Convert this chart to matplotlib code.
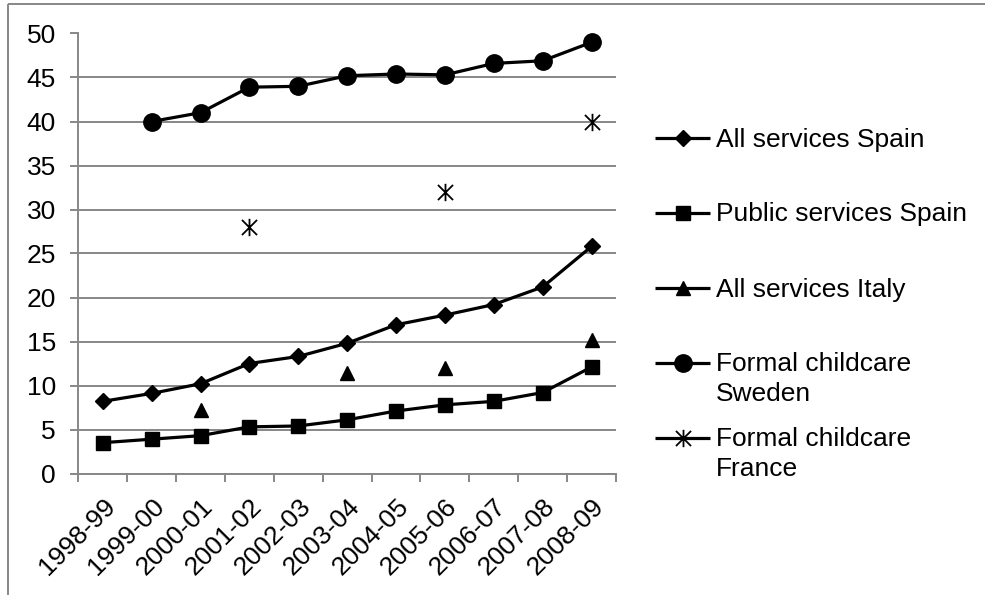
import matplotlib
matplotlib.use('Agg')
import matplotlib.pyplot as plt
from matplotlib.path import Path
from matplotlib.patches import Rectangle
import numpy as np

plt.rcParams['font.family'] = ['Liberation Sans', 'DejaVu Sans']

years = ['1998-99', '1999-00', '2000-01', '2001-02', '2002-03', '2003-04',
         '2004-05', '2005-06', '2006-07', '2007-08', '2008-09']
nan = np.nan
spain_all = [8.2, 9.1, 10.2, 12.5, 13.3, 14.8, 16.9, 18.0, 19.2, 21.2, 25.8]
spain_public = [3.5, 3.9, 4.3, 5.3, 5.4, 6.1, 7.1, 7.8, 8.2, 9.2, 12.1]
italy_all = [nan, nan, 7.2, nan, nan, 11.4, nan, 12.0, nan, nan, 15.2]
sweden_formal = [nan, 40.0, 41.0, 43.9, 44.0, 45.2, 45.4, 45.3, 46.6, 46.9, 49.0]
france_formal = [nan, nan, nan, 28.0, nan, nan, nan, 32.0, nan, nan, 40.0]
series_labels = ['All services Spain', 'Public services Spain', 'All services Italy',
                 'Formal childcare\nSweden', 'Formal childcare\nFrance']
y_ticks = [0, 5, 10, 15, 20, 25, 30, 35, 40, 45, 50]

W, H = 985, 595
fig = plt.figure(figsize=(W / 100, H / 100), dpi=100)
GRAY = '#878787'
FS = 19

# asterisk marker (X with vertical bar)
ast = Path([(-1, -1), (1, 1), (-1, 1), (1, -1), (0, -1.15), (0, 1.15)],
           [Path.MOVETO, Path.LINETO, Path.MOVETO, Path.LINETO, Path.MOVETO, Path.LINETO])

styles = [
    dict(marker='D', ms=7.8),
    dict(marker='s', ms=10.0),
    dict(marker='^', ms=10.5),
    dict(marker='o', ms=12.5),
    dict(marker=ast, ms=12.5, mew=1.3, mfc='none'),
]
data = [spain_all, spain_public, italy_all, sweden_formal, france_formal]

x0, x1 = 78.3, 616.0
yb, yt = 473.5, 33.5
ax = fig.add_axes([x0 / W, 1 - yb / H, (x1 - x0) / W, (yb - yt) / H])
x = np.arange(len(years))
for vals, st in zip(data, styles):
    kw = dict(color='black', lw=2.3, mec='black', mfc='black', mew=1.0)
    kw.update(st)
    ax.plot(x, vals, clip_on=False, zorder=3, **kw)

ax.set_xlim(-0.5, len(years) - 0.5)
ax.set_ylim(0, 50)
ax.set_yticks(y_ticks)
ax.set_yticklabels([str(v) for v in y_ticks], fontsize=FS)
ax.yaxis.grid(True, color=GRAY, lw=1.4)
ax.set_axisbelow(True)
ax.set_xticks(np.arange(-0.5, len(years), 1.0))
ax.set_xticklabels([])
ax.set_xticks(x, minor=True)
ax.set_xticklabels(years, minor=True, rotation=45, ha='right', va='top',
                   rotation_mode='anchor', fontsize=FS)
ax.tick_params(axis='x', which='minor', length=0, pad=15)
ax.tick_params(axis='x', which='major', length=5.5, width=1.4, color=GRAY, direction='out')
ax.tick_params(axis='y', length=5.5, width=1.4, color=GRAY, pad=10.5)
for s in ['top', 'right']:
    ax.spines[s].set_visible(False)
for s in ['left', 'bottom']:
    ax.spines[s].set_color(GRAY)
    ax.spines[s].set_linewidth(1.4)

# overlay in pixel coordinates for border and legend
ov = fig.add_axes([0, 0, 1, 1], zorder=-1)
ov.set_xlim(0, W)
ov.set_ylim(H, 0)
ov.axis('off')
ov.add_patch(Rectangle((8, 3.5), 2000, 2000, fill=False, edgecolor=GRAY, lw=1.4))

ov2 = fig.add_axes([0, 0, 1, 1], zorder=5)
ov2.set_xlim(0, W)
ov2.set_ylim(H, 0)
ov2.axis('off')
leg_y = [138, 213, 288, 362.5, 437.5]
for ly, lab, st in zip(leg_y, series_labels, styles):
    ov2.plot([655, 710], [ly, ly], color='black', lw=2.3, solid_capstyle='butt')
    kw = dict(color='black', mec='black', mfc='black', mew=1.0, ls='none')
    kw.update(st)
    ov2.plot([682.5], [ly], **kw)
    for i, line in enumerate(lab.split('\n')):
        ov2.text(716, ly + 8.5 + i * 30, line, fontsize=FS, va='baseline', ha='left')

fig.savefig('out.png', dpi=100)
